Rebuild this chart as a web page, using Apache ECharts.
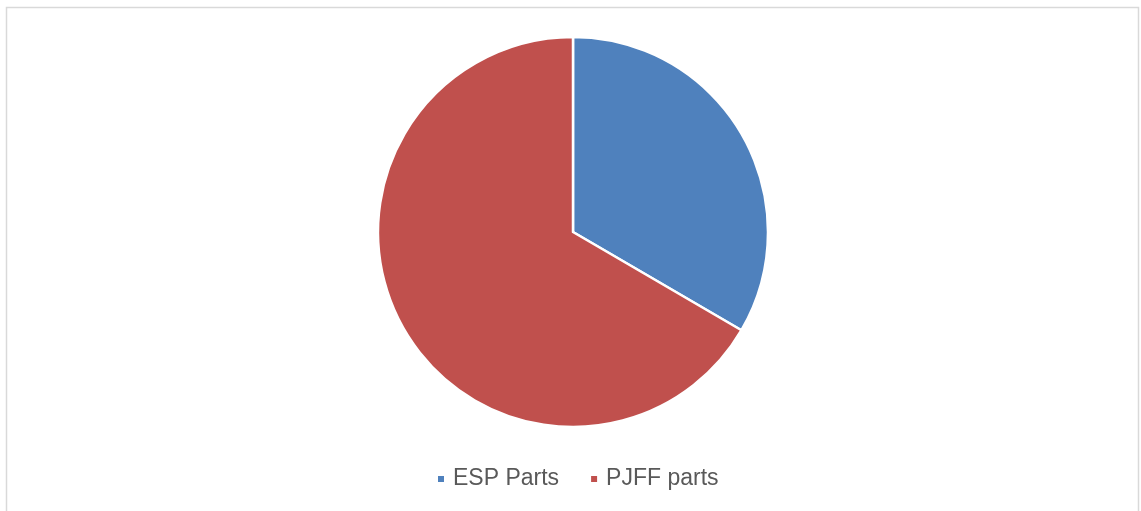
<!DOCTYPE html>
<html>
<head>
<meta charset="utf-8">
<script src="https://cdn.jsdelivr.net/npm/echarts@6/dist/echarts.min.js"></script>
<style>
  html, body { margin: 0; padding: 0; background: #fff; }
  #chart { width: 1141px; height: 511px; }
</style>
</head>
<body>
<div id="chart"></div>
<script>
// 饼图数据
const categories = ['ESP Parts', 'PJFF parts']
const values = [33.4, 66.6]
const colors = ['#4F81BD', '#C0504D']

const chart = echarts.init(document.getElementById('chart'))

chart.setOption({
  animation: false,
  graphic: [
    {
      type: 'rect',
      shape: { x: 6.5, y: 7.5, width: 1132, height: 520 },
      style: { fill: 'none', stroke: '#d9d9d9', lineWidth: 1.5 },
      silent: true
    }
  ],
  legend: {
    data: categories,
    top: 467,
    left: 436,
    padding: 0,
    icon: 'rect',
    itemWidth: 8,
    itemHeight: 8,
    itemGap: 30,
    textStyle: {
      fontFamily: 'Liberation Sans, Arial',
      fontSize: 23,
      lineHeight: 24,
      color: '#595959',
      padding: [0, 0, 0, 3]
    }
  },
  series: [
    {
      type: 'pie',
      center: [573, 232],
      radius: 195,
      startAngle: 90,
      clockwise: true,
      label: { show: false },
      labelLine: { show: false },
      itemStyle: { borderColor: '#fff', borderWidth: 2.5 },
      data: categories.map((c, i) => ({
        name: c,
        value: values[i],
        itemStyle: { color: colors[i] }
      }))
    }
  ]
})
</script>
</body>
</html>
